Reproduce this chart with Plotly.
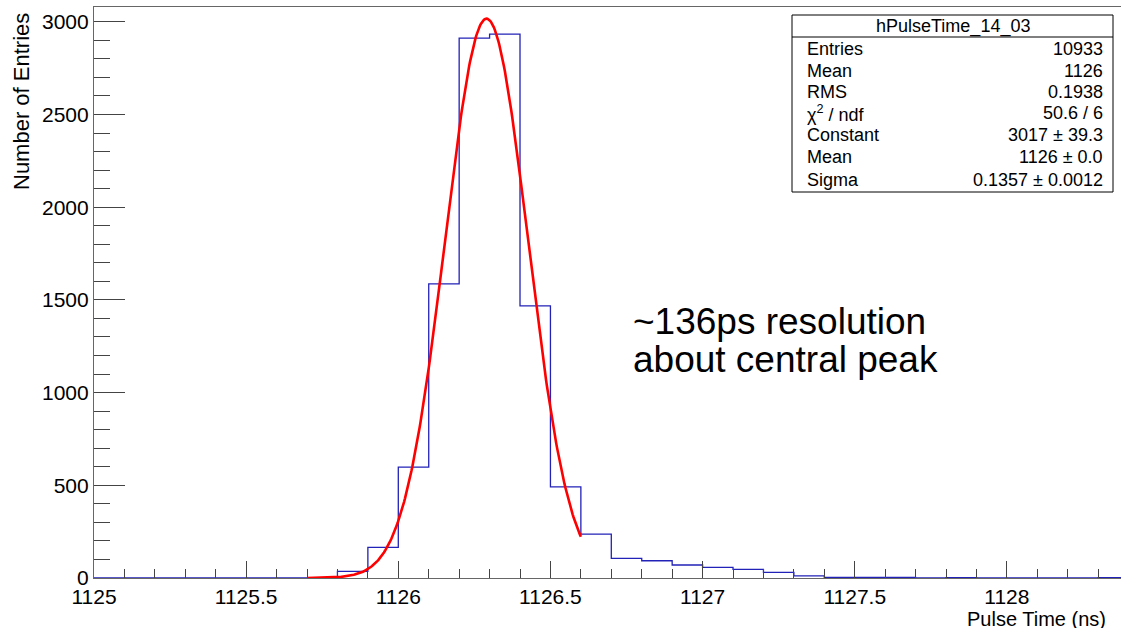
import numpy as np
import plotly.graph_objects as go

# ---------------- data ----------------
hist_name = "hPulseTime_14_03"
bin_low = 1125.0
bin_width = 0.1
counts = [0, 0, 0, 0, 0, 0, 0, 0, 36, 165,
          598, 1587, 2912, 2934, 1468, 491, 237, 106, 93, 70,
          57, 46, 30, 11, 3, 3, 3, 0, 2, 0,
          0, 0, 0, 2]
fit_constant = 3017
fit_mean = 1126.29
fit_sigma = 0.1357
fit_range = [1125.7, 1126.6]

x_tickvals = [1125, 1125.5, 1126, 1126.5, 1127, 1127.5, 1128]
x_ticktext = ["1125", "1125.5", "1126", "1126.5", "1127", "1127.5", "1128"]
y_tickvals = [0, 500, 1000, 1500, 2000, 2500, 3000]

stats_labels = ["Entries", "Mean", "RMS", "χ<sup>2</sup> / ndf", "Constant", "Mean", "Sigma"]
stats_values = ["10933", "1126", "0.1938", "50.6 / 6", "3017 ± 39.3", "1126 ± 0.0", "0.1357 ± 0.0012"]

note_lines = ["~136ps resolution", "about central peak"]

# ---------------- geometry ----------------
W, H = 1121, 628
L, R, T, B = 94, 0, 7, 50
PW, PH = W - L - R, H - T - B
FONT = "Liberation Sans, Arial, Helvetica, sans-serif"


def px_x(px):
    return (px - L) / PW


def px_y(py):
    return (H - B - py) / PH


edges = [bin_low + bin_width * i for i in range(len(counts) + 1)]
hist_y = counts + [counts[-1]]

fx = np.linspace(fit_range[0], fit_range[1], 300)
fy = fit_constant * np.exp(-0.5 * ((fx - fit_mean) / fit_sigma) ** 2)

fig = go.Figure()
fig.add_trace(go.Scatter(x=edges, y=hist_y, mode="lines", line_shape="hv",
                         line=dict(color="#2222b8", width=1.3), hoverinfo="skip"))
fig.add_trace(go.Scatter(x=fx, y=fy, mode="lines",
                         line=dict(color="#ff0000", width=2.6), hoverinfo="skip"))

axis_common = dict(showgrid=False, zeroline=False, showline=True, linecolor="#666666",
                   linewidth=1.2, ticks="inside", tickcolor="#444444", tickwidth=1,
                   tickfont=dict(family=FONT, size=21, color="#000000"))

fig.update_layout(
    width=W, height=H,
    margin=dict(l=L, r=R, t=T, b=B, pad=0),
    paper_bgcolor="white", plot_bgcolor="white",
    showlegend=False,
    xaxis=dict(range=[1125, 1128.375], tickvals=x_tickvals, ticktext=x_ticktext,
               ticklen=17, mirror=True,
               minor=dict(ticks="inside", dtick=0.1, tick0=1125, ticklen=9,
                          tickcolor="#444444", tickwidth=1),
               **axis_common),
    yaxis=dict(range=[0, 3080], tickvals=y_tickvals, ticklen=31,
               minor=dict(ticks="inside", dtick=100, tick0=0, ticklen=16,
                          tickcolor="#444444", tickwidth=1),
               **axis_common),
)

# axis titles
fig.add_annotation(text="Pulse Time (ns)", xref="paper", yref="paper",
                   x=px_x(1108), y=px_y(619), xanchor="right", yanchor="middle",
                   showarrow=False, font=dict(family=FONT, size=20, color="black"))
fig.add_annotation(text="Number of Entries", xref="paper", yref="paper",
                   x=px_x(21), y=px_y(102), xanchor="center", yanchor="middle",
                   textangle=-90, showarrow=False,
                   font=dict(family=FONT, size=22, color="black"))

# note text
for line, cy in zip(note_lines, [321, 359]):
    fig.add_annotation(text=line, xref="paper", yref="paper", x=px_x(631), y=px_y(cy),
                       xanchor="left", yanchor="middle", showarrow=False,
                       font=dict(family=FONT, size=37, color="black"))

# stats box
bx0, bx1, by0, by1, bsep = 792, 1113, 15, 192, 37
fig.add_shape(type="rect", xref="paper", yref="paper",
              x0=px_x(bx0), x1=px_x(bx1), y0=px_y(by1), y1=px_y(by0),
              line=dict(color="black", width=1), fillcolor="white", layer="above")
fig.add_shape(type="line", xref="paper", yref="paper",
              x0=px_x(bx0), x1=px_x(bx1), y0=px_y(bsep), y1=px_y(bsep),
              line=dict(color="black", width=1), layer="above")
fig.add_annotation(text=hist_name, xref="paper", yref="paper",
                   x=px_x((bx0 + bx1) / 2), y=px_y(26), xanchor="center", yanchor="middle",
                   showarrow=False, font=dict(family=FONT, size=18, color="black"))
row_y = [49, 71, 92, 113, 135, 157, 180]
for lab, val, ry in zip(stats_labels, stats_values, row_y):
    fig.add_annotation(text=lab, xref="paper", yref="paper", x=px_x(805), y=px_y(ry),
                       xanchor="left", yanchor="middle", showarrow=False,
                       font=dict(family=FONT, size=18, color="black"))
    fig.add_annotation(text=val, xref="paper", yref="paper", x=px_x(1105), y=px_y(ry),
                       xanchor="right", yanchor="middle", showarrow=False,
                       font=dict(family=FONT, size=18, color="black"))

fig.write_html("out.html", config={"displayModeBar": False},
               post_script="document.body.style.margin='0';document.body.style.overflow='hidden';")
